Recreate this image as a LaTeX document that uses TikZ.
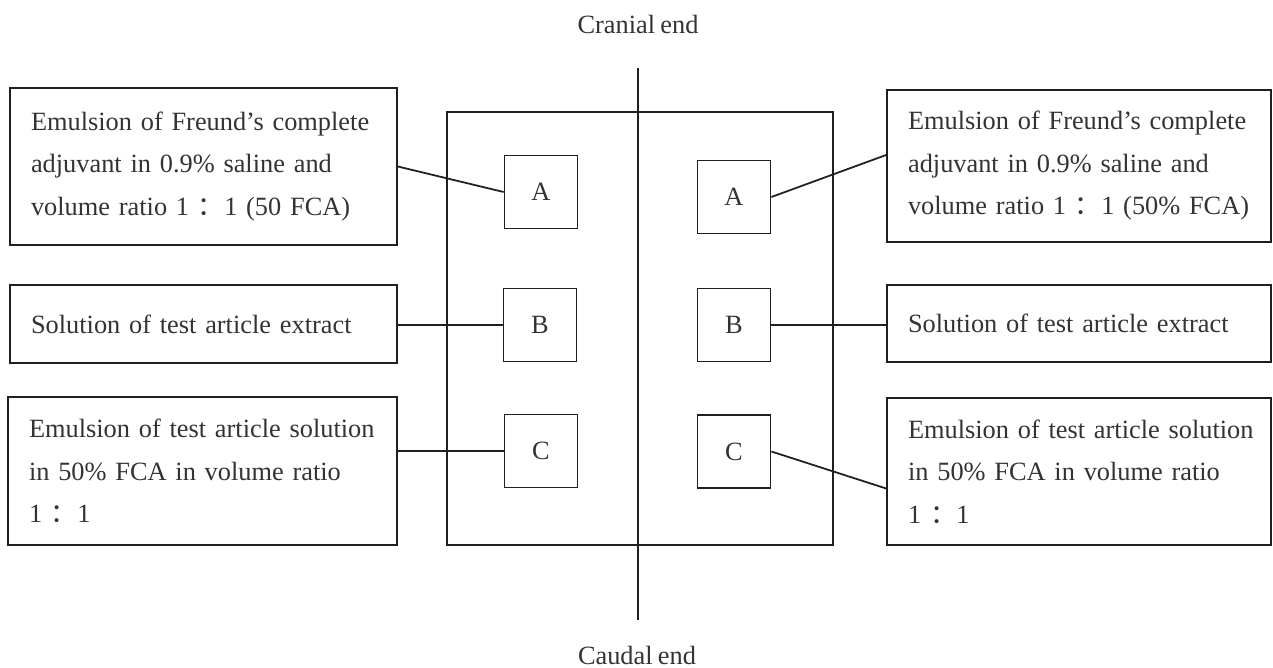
\documentclass[tikz,border=0pt]{standalone}
\usepackage{fontspec}
\setmainfont[WordSpace=0.8]{Liberation Serif}
\newfontfamily\cjkfont{Noto Sans CJK SC}
\newcommand{\fwcolon}{{\cjkfont ：}}
\begin{document}
\begin{tikzpicture}[x=0.02cm,y=-0.02cm,
  ln/.style={line width=1pt, draw=black!88},
  txt/.style={font=\fontsize{15}{24.2}\selectfont, text=black!80},
  textbox/.style={ln, txt, inner xsep=0.42cm, inner ysep=0pt, align=left},
  site/.style={ln, txt, minimum width=1.46cm, minimum height=1.46cm, inner sep=0pt}]
\useasboundingbox[fill=white] (0,0) rectangle (1273,668);

% body outline and axis
\draw[ln] (447,112) rectangle (833,545);
\coordinate (top) at (638,68);
\coordinate (bot) at (638,620);
\draw[ln] (top) -- (bot);
\node[txt] (cranial) at (638,24) {Cranial end};
\node[txt] (caudal) at (637,655) {Caudal end};

% injection sites
\node[site] (sLA) at (541,192) {A};
\node[site] (sRA) at (734,197) {A};
\node[site] (sLB) at (540,325) {B};
\node[site] (sRB) at (734,325) {B};
\node[site] (sLC) at (541,451) {C};
\node[site] (sRC) at (734,451.5) {C};

% description boxes
\node[textbox, minimum width=7.74cm, minimum height=3.14cm, text width=6.9cm] (LA) at (203.5,166.5)
  {\mbox{Emulsion of Freund’s complete}\\\mbox{adjuvant in 0.9\% saline and}\\\mbox{volume ratio 1 \fwcolon1 (50 FCA)}};
\node[textbox, minimum width=7.68cm, minimum height=3.04cm, text width=6.84cm] (RA) at (1079,166)
  {\mbox{Emulsion of Freund’s complete}\\\mbox{adjuvant in 0.9\% saline and}\\\mbox{volume ratio 1 \fwcolon1 (50\% FCA)}};
\node[textbox, minimum width=7.74cm, minimum height=1.56cm, text width=6.9cm] (LB) at (203.5,324)
  {\mbox{Solution of test article extract}};
\node[textbox, minimum width=7.68cm, minimum height=1.54cm, text width=6.84cm] (RB) at (1079,323.5)
  {\mbox{Solution of test article extract}};
\node[textbox, minimum width=7.78cm, minimum height=2.96cm, text width=6.94cm] (LC) at (202.5,471)
  {\mbox{Emulsion of test article solution}\\\mbox{in 50\% FCA in volume ratio}\\\mbox{1 \fwcolon1}};
\node[textbox, minimum width=7.68cm, minimum height=2.94cm, text width=6.84cm] (RC) at (1079,471.5)
  {\mbox{Emulsion of test article solution}\\\mbox{in 50\% FCA in volume ratio}\\\mbox{1 \fwcolon1}};

% connectors
\draw[ln] (LA.east) -- (sLA.west);
\draw[ln] (sRA.east) -- ([yshift=0.22cm]RA.west);
\draw[ln] (sLB.west -| LB.east) -- (sLB.west);
\draw[ln] (sRB.east) -- (sRB.east -| RB.west);
\draw[ln] (sLC.west -| LC.east) -- (sLC.west);
\draw[ln] (sRC.east) -- ([yshift=-0.34cm]RC.west);
\end{tikzpicture}
\end{document}
